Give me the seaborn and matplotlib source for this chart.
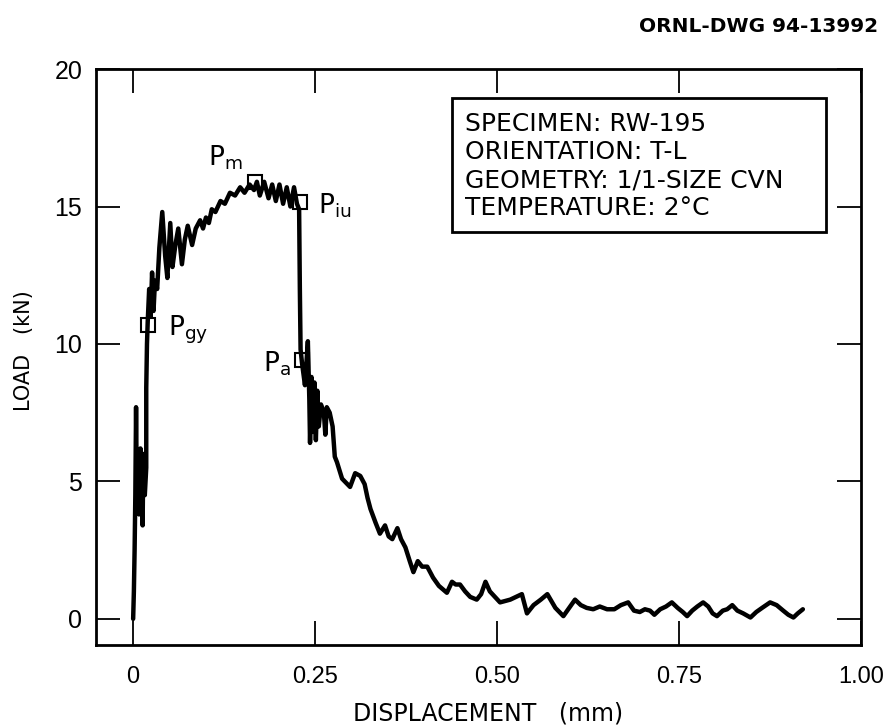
import numpy as np
import pandas as pd
import matplotlib
matplotlib.use("Agg")
import matplotlib.pyplot as plt
import seaborn as sns
from matplotlib.patches import Rectangle

# ---- data ----
disp = [0.000, 0.001, 0.002, 0.003, 0.004, 0.005, 0.007, 0.008, 0.010, 0.011,
        0.012, 0.013, 0.014, 0.016, 0.018, 0.018, 0.019, 0.020, 0.022, 0.024,
        0.026, 0.028, 0.030, 0.033, 0.036, 0.040, 0.044, 0.047, 0.051, 0.054,
        0.058, 0.062, 0.067, 0.071, 0.075, 0.081, 0.086, 0.092, 0.096, 0.100,
        0.104, 0.108, 0.113, 0.120, 0.126, 0.133, 0.140, 0.147, 0.153, 0.160,
        0.166, 0.170, 0.174, 0.180, 0.186, 0.191, 0.196, 0.201, 0.206, 0.211,
        0.216, 0.221, 0.225, 0.228, 0.229, 0.230, 0.232, 0.236, 0.240, 0.242,
        0.243, 0.245, 0.247, 0.249, 0.251, 0.253, 0.255, 0.258, 0.262, 0.264,
        0.266, 0.270, 0.274, 0.277, 0.280, 0.287, 0.298, 0.305, 0.312, 0.318,
        0.322, 0.326, 0.333, 0.339, 0.346, 0.351, 0.356, 0.363, 0.368, 0.374,
        0.380, 0.385, 0.391, 0.397, 0.404, 0.412, 0.420, 0.431, 0.438, 0.443,
        0.449, 0.456, 0.463, 0.472, 0.478, 0.484, 0.490, 0.497, 0.504, 0.511,
        0.518, 0.526, 0.534, 0.541, 0.550, 0.560, 0.569, 0.580, 0.591, 0.599,
        0.607, 0.615, 0.623, 0.632, 0.641, 0.651, 0.661, 0.670, 0.680, 0.688,
        0.696, 0.703, 0.710, 0.716, 0.724, 0.732, 0.740, 0.748, 0.755, 0.761,
        0.768, 0.775, 0.783, 0.790, 0.796, 0.802, 0.810, 0.816, 0.823, 0.830,
        0.838, 0.848, 0.856, 0.864, 0.875, 0.884, 0.893, 0.900, 0.907, 0.913,
        0.920]
load = [0.0, 1.0, 2.5, 4.5, 7.7, 4.6, 6.0, 3.8, 6.2, 4.0,
        5.8, 3.4, 6.0, 4.5, 5.5, 8.4, 10.0, 10.8, 12.0, 11.0,
        12.6, 11.2, 12.3, 12.0, 13.5, 14.8, 13.2, 12.4, 14.4, 12.8,
        13.6, 14.2, 12.9, 13.8, 14.3, 13.6, 14.2, 14.5, 14.2, 14.6,
        14.4, 14.9, 14.8, 15.2, 15.1, 15.5, 15.4, 15.7, 15.5, 15.8,
        15.6, 15.9, 15.4, 15.9, 15.3, 15.8, 15.2, 15.8, 15.1, 15.7,
        15.0, 15.7, 15.1, 14.9, 12.0, 9.8, 9.3, 8.5, 10.1, 8.0,
        6.4, 8.8, 6.8, 8.6, 6.5, 8.3, 7.0, 7.8, 7.5, 6.7,
        7.7, 7.5, 7.0, 5.9, 5.7, 5.1, 4.8, 5.3, 5.2, 4.9,
        4.4, 4.0, 3.5, 3.1, 3.4, 3.0, 2.9, 3.3, 2.9, 2.6,
        2.1, 1.7, 2.1, 1.9, 1.9, 1.5, 1.2, 0.95, 1.35, 1.25,
        1.25, 1.0, 0.8, 0.7, 0.9, 1.35, 1.0, 0.8, 0.6, 0.65,
        0.7, 0.8, 0.9, 0.2, 0.5, 0.7, 0.9, 0.4, 0.1, 0.4,
        0.7, 0.5, 0.4, 0.35, 0.45, 0.35, 0.35, 0.5, 0.6, 0.3,
        0.25, 0.35, 0.3, 0.15, 0.35, 0.45, 0.6, 0.4, 0.25, 0.1,
        0.3, 0.45, 0.6, 0.45, 0.2, 0.1, 0.3, 0.35, 0.5, 0.3,
        0.2, 0.05, 0.25, 0.4, 0.6, 0.5, 0.3, 0.15, 0.05, 0.2,
        0.35]

mark_names = ["m", "iu", "gy", "a"]
mark_x = [0.168, 0.229, 0.020, 0.232]
mark_y = [15.9, 15.15, 10.7, 9.4]

xticks = [0, 0.25, 0.50, 0.75, 1.00]
xticklabels = ["0", "0.25", "0.50", "0.75", "1.00"]
yticks = [0, 5, 10, 15, 20]
info_lines = ["SPECIMEN: RW-195", "ORIENTATION: T-L",
              "GEOMETRY: 1/1-SIZE CVN", "TEMPERATURE: 2\u00b0C"]

# ---- plot ----
sns.set_theme(style="ticks")
plt.rcParams['font.family'] = ['DejaVu Sans']
plt.rcParams['mathtext.fontset'] = 'dejavusans'

fig = plt.figure(figsize=(8.85, 7.27), dpi=100)
ax = fig.add_axes([0.1085, 0.1128, 0.8645, 0.7922])

df = pd.DataFrame({"disp": disp, "load": load})
sns.lineplot(data=df, x="disp", y="load", sort=False, estimator=None,
             color="black", linewidth=3.2, ax=ax)

mk = pd.DataFrame({"x": mark_x, "y": mark_y})
ax.plot(mk["x"], mk["y"], linestyle="none", marker="s", markersize=10,
        markerfacecolor="none", markeredgecolor="black", markeredgewidth=1.5,
        zorder=5)

ax.set_xlim(-0.051, 1.0)
ax.set_ylim(-0.95, 20)
ax.set_xticks(xticks)
ax.set_xticklabels(xticklabels, fontfamily="Liberation Sans", fontsize=17)
ax.set_yticks(yticks)
ax.set_yticklabels([str(v) for v in yticks], fontfamily="Liberation Sans",
                   fontsize=18)
ax.set_xlabel("")
ax.set_ylabel("")
ax.tick_params(axis="both", direction="in", length=17, width=1.3,
               top=True, right=True, colors="black")
ax.tick_params(axis="x", pad=15)
ax.tick_params(axis="y", pad=10)
for s in ax.spines.values():
    s.set_linewidth(2.0)
    s.set_color("black")

# point labels
lab_kw = dict(fontsize=19, color="black", va="baseline", ha="left")
ax.text(0.103, 16.5, r"$\mathregular{P_{m}}$", **lab_kw)
ax.text(0.254, 14.75, r"$\mathregular{P_{iu}}$", **lab_kw)
ax.text(0.048, 10.3, r"$\mathregular{P_{gy}}$", **lab_kw)
ax.text(0.179, 9.0, r"$\mathregular{P_{a}}$", **lab_kw)

# info box
ax.add_patch(Rectangle((0.465, 0.717), 0.489, 0.233, transform=ax.transAxes,
                       fill=True, facecolor="white", edgecolor="black",
                       linewidth=2.0, zorder=6))
for i, line in enumerate(info_lines):
    ax.text(0.482, 0.892 - i * 0.0484, line, transform=ax.transAxes,
            fontsize=18, color="black", va="baseline", ha="left", zorder=7)

fig.text(0.552, 0.009, "DISPLACEMENT   (mm)", fontsize=17, ha="center",
         va="baseline", color="black")
fig.text(0.027, 0.518, "LOAD   (kN)", fontsize=15, rotation=90, ha="center",
         va="center", color="black")
fig.text(0.992, 0.956, "ORNL-DWG 94-13992", fontsize=14.5, fontweight="bold",
         ha="right", va="baseline", color="black")

fig.savefig("out.png", dpi=100, facecolor="white")
